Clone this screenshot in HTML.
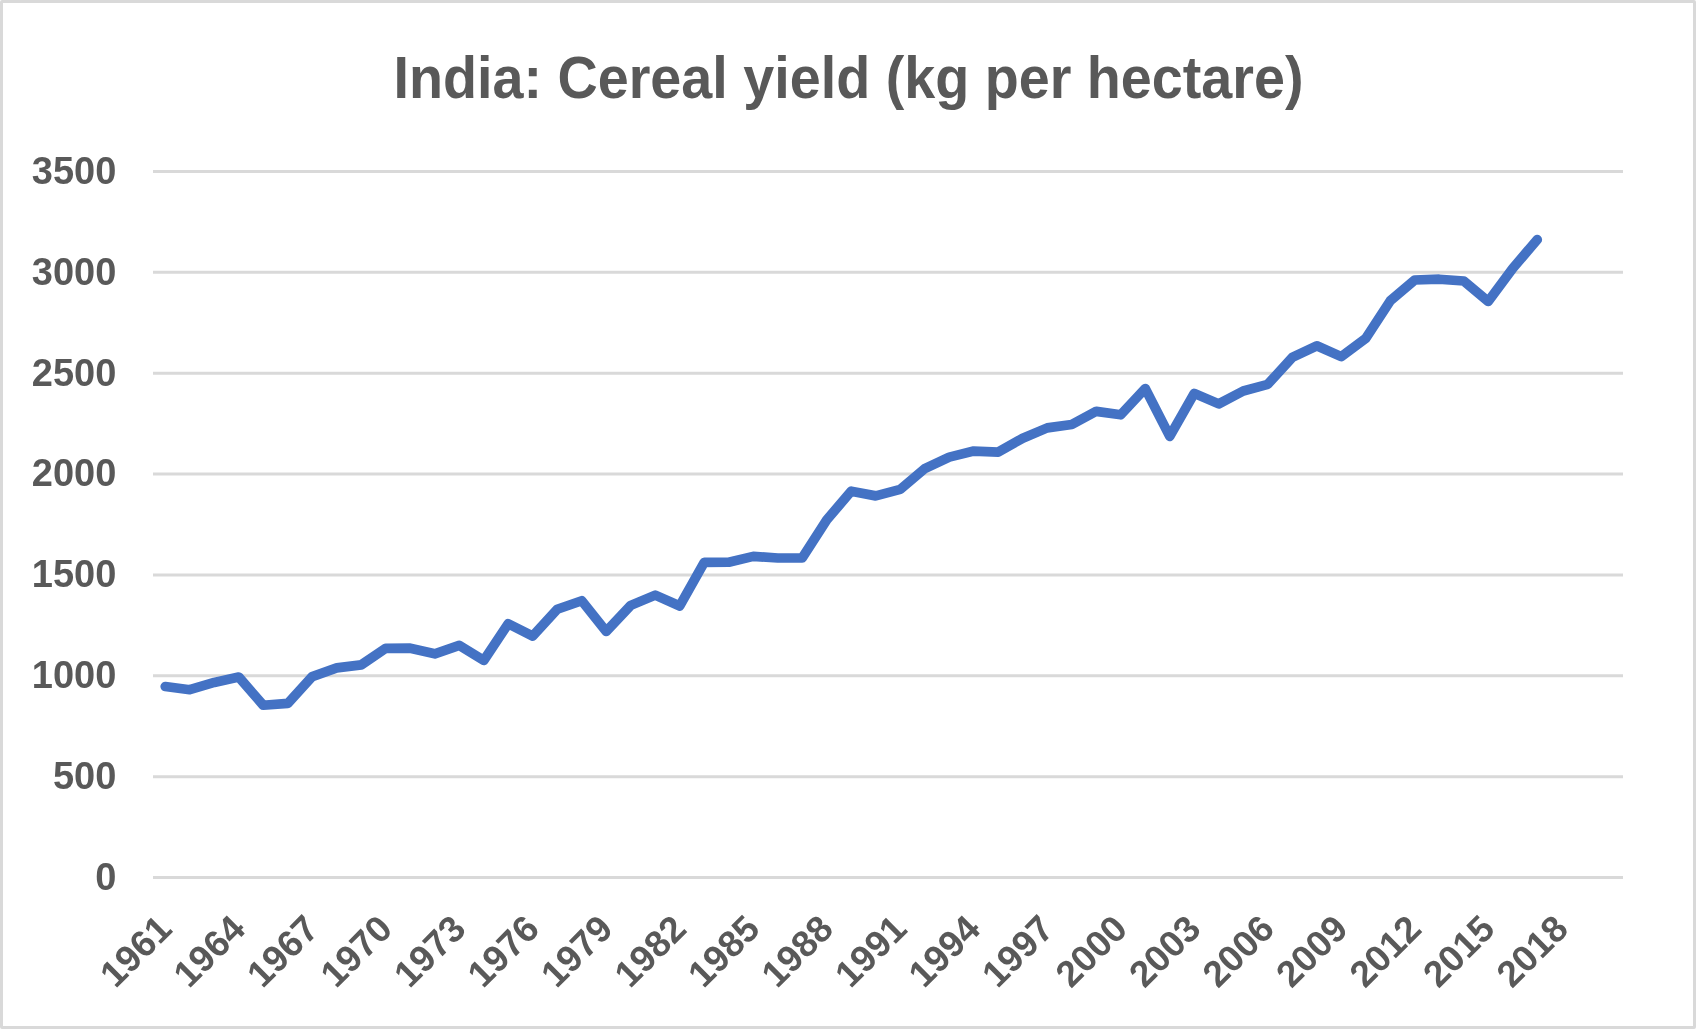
<!DOCTYPE html>
<html><head><meta charset="utf-8"><title>India: Cereal yield (kg per hectare)</title>
<style>
html,body{margin:0;padding:0;background:#fff;}
body{width:1696px;height:1029px;overflow:hidden;}
svg{display:block;will-change:transform;}
text{font-family:"Liberation Sans",Arial,sans-serif;font-weight:bold;fill:#595959;}

</style></head><body>
<svg width="1696" height="1029" viewBox="0 0 1696 1029">
<rect x="0" y="0" width="1696" height="1029" fill="#fff"/>
<rect x="1.5" y="1.5" width="1693" height="1026" rx="0.5" ry="0.5" fill="#fff" stroke="#d9d9d9" stroke-width="3"/>
<text x="848.5" y="97.5" text-anchor="middle" font-size="58.5" textLength="910" lengthAdjust="spacingAndGlyphs">India: Cereal yield (kg per hectare)</text>
<g stroke="#d9d9d9" stroke-width="3">
<line x1="153.0" y1="877.50" x2="1623.0" y2="877.50"/>
<line x1="153.0" y1="776.64" x2="1623.0" y2="776.64"/>
<line x1="153.0" y1="675.79" x2="1623.0" y2="675.79"/>
<line x1="153.0" y1="574.93" x2="1623.0" y2="574.93"/>
<line x1="153.0" y1="474.07" x2="1623.0" y2="474.07"/>
<line x1="153.0" y1="373.21" x2="1623.0" y2="373.21"/>
<line x1="153.0" y1="272.36" x2="1623.0" y2="272.36"/>
<line x1="153.0" y1="171.50" x2="1623.0" y2="171.50"/>
</g>
<g font-size="38" text-anchor="end">
<text x="116.4" y="889.85">0</text>
<text x="116.4" y="788.99">500</text>
<text x="116.4" y="688.14">1000</text>
<text x="116.4" y="587.28">1500</text>
<text x="116.4" y="486.42">2000</text>
<text x="116.4" y="385.56">2500</text>
<text x="116.4" y="284.71">3000</text>
<text x="116.4" y="183.85">3500</text>
</g>
<g font-size="37" text-anchor="end">
<text transform="translate(173.75,931.00) rotate(-45)">1961</text>
<text transform="translate(247.25,931.00) rotate(-45)">1964</text>
<text transform="translate(320.75,931.00) rotate(-45)">1967</text>
<text transform="translate(394.25,931.00) rotate(-45)">1970</text>
<text transform="translate(467.75,931.00) rotate(-45)">1973</text>
<text transform="translate(541.25,931.00) rotate(-45)">1976</text>
<text transform="translate(614.75,931.00) rotate(-45)">1979</text>
<text transform="translate(688.25,931.00) rotate(-45)">1982</text>
<text transform="translate(761.75,931.00) rotate(-45)">1985</text>
<text transform="translate(835.25,931.00) rotate(-45)">1988</text>
<text transform="translate(908.75,931.00) rotate(-45)">1991</text>
<text transform="translate(982.25,931.00) rotate(-45)">1994</text>
<text transform="translate(1055.75,931.00) rotate(-45)">1997</text>
<text transform="translate(1129.25,931.00) rotate(-45)">2000</text>
<text transform="translate(1202.75,931.00) rotate(-45)">2003</text>
<text transform="translate(1276.25,931.00) rotate(-45)">2006</text>
<text transform="translate(1349.75,931.00) rotate(-45)">2009</text>
<text transform="translate(1423.25,931.00) rotate(-45)">2012</text>
<text transform="translate(1496.75,931.00) rotate(-45)">2015</text>
<text transform="translate(1570.25,931.00) rotate(-45)">2018</text>
</g>
<polyline fill="none" stroke="#4472c4" stroke-width="9.7" stroke-linecap="round" stroke-linejoin="round" points="165.25,686.48 189.75,689.70 214.25,682.44 238.75,677.00 263.25,705.24 287.75,703.42 312.25,676.59 336.75,667.92 361.25,664.89 385.75,648.35 410.25,648.15 434.75,653.80 459.25,645.33 483.75,660.46 508.25,623.74 532.75,636.05 557.25,609.22 581.75,600.75 606.25,631.41 630.75,605.39 655.25,595.10 679.75,605.99 704.25,562.42 728.75,562.22 753.25,556.37 777.75,557.98 802.25,557.98 826.75,519.86 851.25,491.22 875.75,495.86 900.25,489.40 924.75,468.63 949.25,457.13 973.75,451.08 998.25,452.08 1022.75,438.17 1047.25,427.88 1071.75,424.45 1096.25,411.34 1120.75,414.77 1145.25,388.54 1169.75,436.35 1194.25,393.39 1218.75,403.87 1243.25,390.97 1267.75,384.31 1292.25,357.48 1316.75,345.78 1341.25,356.67 1365.75,338.32 1390.25,300.80 1414.75,280.02 1439.25,279.22 1463.75,281.03 1488.25,301.40 1512.75,268.32 1537.25,239.68"/>
</svg>
</body></html>
